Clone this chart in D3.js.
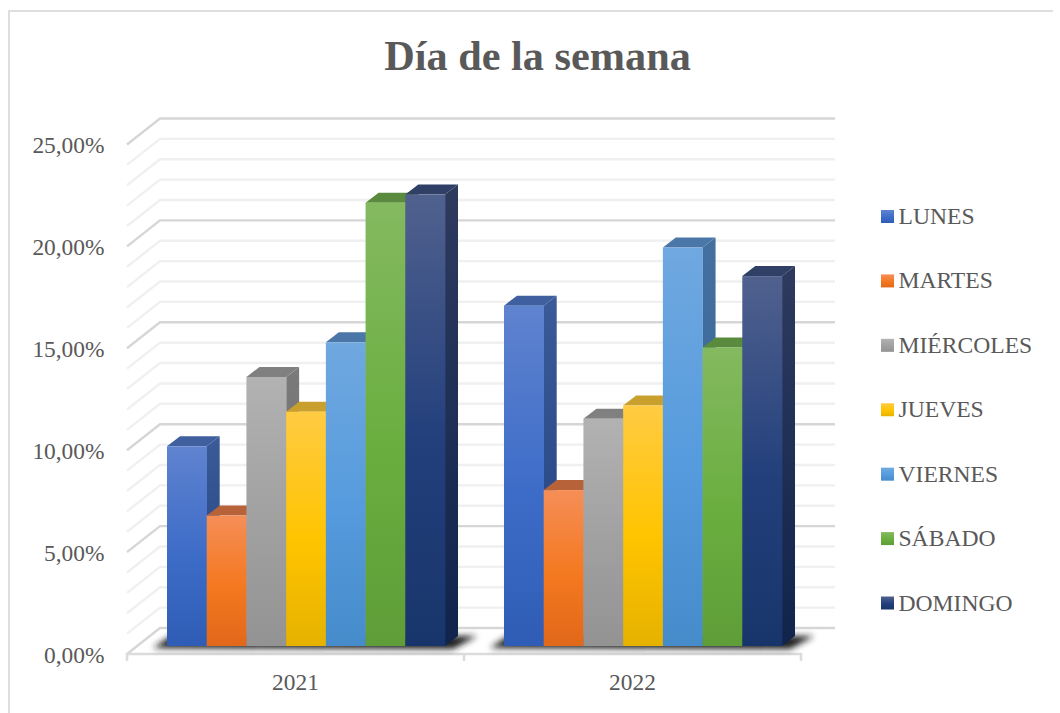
<!DOCTYPE html>
<html><head><meta charset="utf-8">
<script src="https://cdn.jsdelivr.net/npm/d3@7"></script>
<style>html,body{margin:0;padding:0;background:#fff}svg{display:block}text{font-family:"Liberation Serif",serif;fill:#595959}</style>
</head><body><svg id="c" width="1060" height="713"></svg>
<script>
const title = "Día de la semana";
const years = ["2021","2022"];
const days = ["LUNES","MARTES","MIÉRCOLES","JUEVES","VIERNES","SÁBADO","DOMINGO"];
const v2021 = [9.8,6.4,13.2,11.5,14.9,21.75,22.15];
const v2022 = [16.7,7.65,11.15,11.8,19.55,14.65,18.15];
const colTop = ["#5f83cf","#f58e57","#b2b2b2","#ffcb42","#70a8e0","#84b960","#50618e"];
const colMid = ["#3d6cc8","#f4781f","#a0a0a0","#ffc400","#559bdd","#6aae3f","#223f7c"];
const colBot = ["#2f5db5","#e2681a","#939393","#e6b200","#468bca","#5f9d38","#18356b"];
const colTopFace = ["#3f5f9f","#b8623a","#808080","#c99f2e","#4a77a8","#5a8a3e","#2f3f66"];
const colSideTop = ["#3a5a98","#b05a2c","#7a7a7a","#c49a20","#44709f","#4e7d36","#2e3a5e"];
const colSideBot = ["#1f3f7e","#a64f14","#6a6a6a","#ad8500","#316294","#3e6e26","#10244c"];
const majorTicks = [0,5,10,15,20,25];
const minorTicks = d3.range(0,26);
const values = {"2021":v2021,"2022":v2022};

const svg = d3.select("#c");
const defs = svg.append("defs");
days.forEach((c,i)=>{
  const g=defs.append("linearGradient").attr("id","g"+i).attr("x1",0).attr("y1",0).attr("x2",0).attr("y2",1);
  g.append("stop").attr("offset","0%").attr("stop-color",colTop[i]);
  g.append("stop").attr("offset","55%").attr("stop-color",colMid[i]);
  g.append("stop").attr("offset","100%").attr("stop-color",colBot[i]);
  const s=defs.append("linearGradient").attr("id","s"+i).attr("x1",0).attr("y1",0).attr("x2",0).attr("y2",1);
  s.append("stop").attr("offset","0%").attr("stop-color",colSideTop[i]);
  s.append("stop").attr("offset","100%").attr("stop-color",colSideBot[i]);
});
const sh=defs.append("filter").attr("id","blur").attr("x","-20%").attr("y","-100%").attr("width","140%").attr("height","300%");
sh.append("feGaussianBlur").attr("stdDeviation",3.4);

svg.append("path").attr("d","M9,713V11H1053").attr("fill","none").attr("stroke","#dedede").attr("stroke-width",2);

svg.append("text").attr("x",537.5).attr("y",70).attr("text-anchor","middle").attr("font-size",42.3).attr("font-weight","bold").text(title);

const y = d3.scaleLinear().domain([0,25]).range([654,144.5]);
const x0 = d3.scaleBand().domain(years).range([127,801]);
const depth = {dx:33,dy:-26};
const barShift = {dx:10.5,dy:-8};
const barDepth = {dx:13,dy:-10};
const xGroup = d3.scaleBand().domain(years).range([127+barShift.dx,801+barShift.dx]).paddingInner(0.175).paddingOuter(0.0875);
const xBar = d3.scaleBand().domain(days).range([0,xGroup.bandwidth()]);

const grid = svg.append("g");
const gridLine = (t,major) => {
  const p=d3.path();
  p.moveTo(127,y(t)); p.lineTo(127+depth.dx,y(t)+depth.dy); p.lineTo(835,y(t)+depth.dy);
  grid.append("path").attr("d",p).attr("fill","none").attr("stroke",major?"#d6d6d6":"#f0f0f0").attr("stroke-width",2.4);
};
minorTicks.filter(t=>!majorTicks.includes(t)).forEach(t=>gridLine(t,false));
majorTicks.forEach(t=>gridLine(t,true));

const ax = svg.append("g").attr("fill","none").attr("stroke","#dcdcdc").attr("stroke-width",2.6);
ax.append("path").attr("d",`M127,${y(0)}H801`);
x0.domain().concat("end").forEach(k=>{
  const px = k==="end" ? x0.range()[1] : x0(k);
  ax.append("path").attr("d",`M${px},${y(0)-1}V${y(0)+7}`);
});

majorTicks.forEach(t=>{
  svg.append("text").attr("x",104.5).attr("y",y(t)+8.5).attr("text-anchor","end").attr("font-size",23.4)
    .text(d3.format(".2f")(t).replace(".",",")+"%");
});
years.forEach(yr=>{
  svg.append("text").attr("x",x0(yr)+x0.bandwidth()/2).attr("y",690).attr("text-anchor","middle").attr("font-size",23.4).text(yr);
});

const yB = v => y(v)+barShift.dy;
years.forEach(yr=>{
  const g=svg.append("g");
  const left=xGroup(yr), right=left+xGroup.bandwidth();
  g.append("path").attr("d",`M${left-14},${yB(0)+2}L${left+4},${yB(0)-10}H${right+32}L${right+8},${yB(0)+3}Z`)
    .attr("fill","#1c1c1c").attr("filter","url(#blur)");
  days.forEach((d,i)=>{
    const v=values[yr][i], bx=left+xBar(d), bw=xBar.bandwidth(), top=yB(v), base=yB(0);
    const b=g.append("g");
    b.append("path").attr("d",`M${bx+bw},${top}l${barDepth.dx},${barDepth.dy}V${base+barDepth.dy}l${-barDepth.dx},${-barDepth.dy}Z`).attr("fill",`url(#s${i})`);
    b.append("path").attr("d",`M${bx},${top}l${barDepth.dx},${barDepth.dy}h${bw}l${-barDepth.dx},${-barDepth.dy}Z`).attr("fill",colTopFace[i]);
    b.append("rect").attr("x",bx).attr("y",top).attr("width",bw+0.3).attr("height",base-top).attr("fill",`url(#g${i})`);
  });
});

const legendY = d3.scalePoint().domain(days).range([216,602.5]);
days.forEach((d,i)=>{
  const ly=legendY(d);
  svg.append("rect").attr("x",881).attr("y",ly-6).attr("width",13).attr("height",13).attr("fill",`url(#g${i})`);
  svg.append("text").attr("x",898.5).attr("y",ly+8).attr("font-size",23.6).text(d);
});
</script></body></html>
